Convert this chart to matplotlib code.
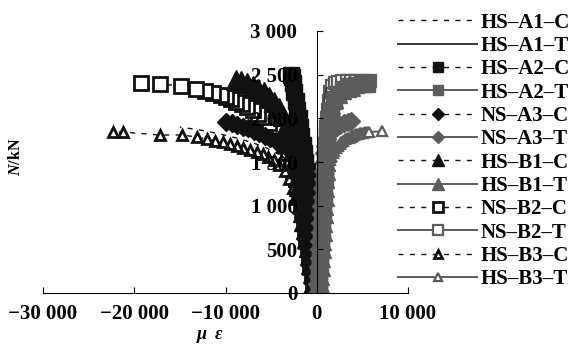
import matplotlib
matplotlib.use("Agg")
import matplotlib.pyplot as plt
from matplotlib.lines import Line2D
from matplotlib.ticker import FuncFormatter

plt.rcParams['font.family'] = ['Liberation Serif', 'DejaVu Serif']
plt.rcParams['font.weight'] = 'bold'
plt.rcParams['mathtext.fontset'] = 'custom'
plt.rcParams['mathtext.it'] = 'Liberation Serif:italic:bold'
plt.rcParams['mathtext.rm'] = 'Liberation Serif:bold'

# strain (με) and axial load (kN)
hs_a1_c_strain = [0, -200, -500, -800, -1200, -1600, -2200, -3000, -4000, -5500, -7000, -9000, -11000, -13000, -15000]
hs_a1_c_load = [0, 100, 400, 700, 1000, 1250, 1400, 1500, 1580, 1660, 1720, 1780, 1830, 1870, 1900]

hs_a1_t_strain = [0, 100, 200, 350, 550, 800, 1100]
hs_a1_t_load = [0, 500, 1000, 1500, 1900, 2200, 2350]

hs_a2_c_strain = [-300, -350, -400, -450, -500, -550, -600, -650, -700, -750, -800, -850, -900,
                  -1000, -1100, -1250, -1400, -1550, -1700, -1850, -2000, -2150, -2300, -2450, -2600, -2750, -2850]
hs_a2_c_load = [0, 100, 200, 300, 400, 500, 600, 700, 800, 900, 1000, 1100, 1200,
                1300, 1400, 1500, 1600, 1700, 1800, 1900, 2000, 2100, 2200, 2300, 2400, 2470, 2500]

hs_a2_t_strain = [200, 250, 300, 350, 400, 450, 500, 550, 600, 650, 700, 750, 800, 850, 900, 950, 1000, 1050, 1100,
                  1200, 1350, 1550, 1850, 2300, 2900, 3600, 4300, 5000, 5500]
hs_a2_t_load = [0, 100, 200, 300, 400, 500, 600, 700, 800, 900, 1000, 1100, 1200, 1300, 1400, 1500, 1600, 1700, 1800,
                1900, 2000, 2100, 2200, 2280, 2340, 2370, 2385, 2390, 2390]

ns_a3_c_strain = [-80, -140, -210, -280, -350, -420, -500, -600, -700, -800, -900, -1000, -1150, -1300, -1500,
                  -1800, -2200, -2700, -3300, -3900, -4500, -5100, -5700, -6300, -6900, -7500, -8100, -8700, -9300, -9900]
ns_a3_c_load = [0, 100, 200, 300, 400, 500, 600, 700, 800, 900, 1000, 1100, 1200, 1300, 1400,
                1490, 1560, 1610, 1660, 1700, 1735, 1770, 1800, 1830, 1860, 1885, 1905, 1925, 1945, 1960]

ns_a3_t_strain = [0, 50, 100, 150, 200, 250, 300, 350, 400, 450, 500, 550, 600, 650, 700, 750, 800,
                  900, 1100, 1400, 1800, 2200, 2600, 3000, 3400, 3700]
ns_a3_t_load = [0, 100, 200, 300, 400, 500, 600, 700, 800, 900, 1000, 1100, 1200, 1300, 1400, 1500, 1600,
                1680, 1760, 1830, 1880, 1905, 1925, 1945, 1960, 1970]

hs_b1_c_strain = [-150, -200, -300, -450, -600, -750, -900, -1050, -1200, -1350, -1500, -1650, -1800, -1950, -2100,
                  -2250, -2400, -2550, -2750, -3000, -3300, -3700, -4150, -4650, -5200, -5800, -6400, -7000, -7600,
                  -8300, -8900]
hs_b1_c_load = [0, 50, 130, 230, 330, 430, 530, 630, 730, 830, 930, 1030, 1130, 1230, 1330,
                1430, 1530, 1630, 1730, 1830, 1930, 2030, 2120, 2190, 2250, 2300, 2340, 2375, 2405,
                2425, 2440]

hs_b1_t_strain = [300, 350, 400, 450, 500, 550, 600, 650, 700, 750, 800, 850, 900, 950, 1000, 1050, 1100, 1150,
                  1200, 1250, 1300, 1400, 1600, 1900, 2300, 2800, 3300, 3800]
hs_b1_t_load = [0, 100, 200, 300, 400, 500, 600, 700, 800, 900, 1000, 1100, 1200, 1300, 1400, 1500, 1600, 1700,
                1800, 1900, 2000, 2080, 2150, 2220, 2280, 2320, 2345, 2360]

ns_b2_c_strain = [-250, -400, -550, -700, -850, -1000, -1150, -1300, -1450, -1600, -1750, -1900, -2100, -2300,
                  -2550, -2850, -3200, -3600, -4100, -4600, -5200, -5800, -6400, -7000, -7600, -8200, -8800,
                  -9400, -9970, -10520, -11360, -12270, -13260, -14830, -17130, -19290]
ns_b2_c_load = [0, 100, 200, 300, 400, 500, 600, 700, 800, 900, 1000, 1100, 1200, 1300,
                1400, 1500, 1600, 1700, 1800, 1880, 1950, 2010, 2055, 2095, 2130, 2160, 2185,
                2225, 2248, 2267, 2293, 2316, 2336, 2370, 2393, 2408]

ns_b2_t_strain = [100, 150, 200, 250, 300, 350, 400, 450, 500, 550, 600, 650, 700, 750, 800, 850, 900, 950, 1000,
                  1050, 1100, 1200, 1300, 1450, 1650, 1950, 2350, 2800, 3300, 3800, 4300, 4800, 5300, 5800]
ns_b2_t_load = [0, 100, 200, 300, 400, 500, 600, 700, 800, 900, 1000, 1100, 1200, 1300, 1400, 1500, 1600, 1700, 1800,
                1900, 2000, 2100, 2200, 2300, 2370, 2400, 2420, 2430, 2430, 2430, 2428, 2428, 2425, 2425]

hs_b3_c_strain = [-150, -300, -450, -600, -750, -950, -1150, -1350, -1550, -1750, -2000, -2300, -2600, -3000,
                  -3500, -4100, -4700, -5300, -5920, -6580, -7340, -8110, -8770, -9540, -10300, -11180, -12050,
                  -13150, -14800, -17200, -21260, -22360]
hs_b3_c_load = [0, 100, 200, 300, 400, 500, 600, 700, 800, 900, 1000, 1100, 1200, 1300,
                1400, 1470, 1520, 1560, 1592, 1614, 1637, 1660, 1683, 1706, 1729, 1740, 1763,
                1786, 1809, 1809, 1843, 1843]

hs_b3_t_strain = [0, 50, 100, 150, 200, 250, 300, 350, 400, 450, 500, 550, 600, 650, 700, 775, 850, 925, 1000, 1100,
                  1200, 1300, 1450, 1600, 1750, 1900, 2100, 2300, 2500, 2700, 2900, 3100, 3300, 3500, 3700, 3900,
                  4100, 4300, 4500, 4700, 4900, 5100, 5300, 5500, 5700, 7200]
hs_b3_t_load = [0, 75, 150, 225, 300, 375, 450, 525, 600, 675, 750, 815, 880, 940, 1000, 1075, 1150, 1220, 1290, 1360,
                1420, 1470, 1520, 1565, 1600, 1630, 1660, 1685, 1710, 1728, 1745, 1758, 1770, 1780, 1790, 1799,
                1808, 1815, 1822, 1828, 1833, 1837, 1840, 1843, 1845, 1850]

x_ticks = [-30000, -20000, -10000, 0, 10000]
y_ticks = [0, 500, 1000, 1500, 2000, 2500, 3000]

BLK = '#111111'
GRY = '#5c5c5c'
DASH = (0, (3.6, 4.6))

fig = plt.figure(figsize=(5.69, 3.53), dpi=100)
ax = fig.add_axes([43 / 569, 60 / 353, 365 / 569, 262 / 353])

# (label, strain, load, compression?, marker, size in plot, size in legend, open?)
series = [
    ('HS\u2013A1\u2013C', hs_a1_c_strain, hs_a1_c_load, True, None, 0, 0, False),
    ('HS\u2013A1\u2013T', hs_a1_t_strain, hs_a1_t_load, False, None, 0, 0, False),
    ('HS\u2013A2\u2013C', hs_a2_c_strain, hs_a2_c_load, True, 's', 11, 7, False),
    ('HS\u2013A2\u2013T', hs_a2_t_strain, hs_a2_t_load, False, 's', 11, 7, False),
    ('NS\u2013A3\u2013C', ns_a3_c_strain, ns_a3_c_load, True, 'D', 9, 6, False),
    ('NS\u2013A3\u2013T', ns_a3_t_strain, ns_a3_t_load, False, 'D', 9, 6, False),
    ('HS\u2013B1\u2013C', hs_b1_c_strain, hs_b1_c_load, True, '^', 14, 8, False),
    ('HS\u2013B1\u2013T', hs_b1_t_strain, hs_b1_t_load, False, '^', 13, 8, False),
    ('NS\u2013B2\u2013C', ns_b2_c_strain, ns_b2_c_load, True, 's', 10, 7, True),
    ('NS\u2013B2\u2013T', ns_b2_t_strain, ns_b2_t_load, False, 's', 9, 7, True),
    ('HS\u2013B3\u2013C', hs_b3_c_strain, hs_b3_c_load, True, '^', 7, 6, True),
    ('HS\u2013B3\u2013T', hs_b3_t_strain, hs_b3_t_load, False, '^', 7, 6, True),
]

handles = []
for label, xs, ys, comp, mk, ms, ms_leg, hollow in series:
    col = BLK if comp else GRY
    if label == 'HS\u2013A1\u2013T':
        col = '#3a3a3a'
    style = dict(color=col, lw=1.0 if comp else 1.4, ls=DASH if comp else '-')
    if mk:
        style.update(marker=mk, mec=col, mfc='white' if hollow else col,
                     mew=(2.0 if comp else 1.6) if hollow else 1.0)
    # hollow markers sit under the filled ones, tension curves over compression
    z = (1.9 if hollow else 2.0) if comp else (2.1 if hollow else 2.2)
    ax.plot(xs, ys, ms=ms, zorder=z, **style)
    handles.append(Line2D([], [], ms=ms_leg, label=label, **style))

ax.set_xlim(-30000, 10000)
ax.set_ylim(0, 3000)
ax.set_axisbelow(False)
ax.spines['top'].set_visible(False)
ax.spines['right'].set_visible(False)
ax.spines['left'].set_position(('data', 0))
for s in ('left', 'bottom'):
    ax.spines[s].set_linewidth(0.8)
    ax.spines[s].set_zorder(3)

def thousands(v, pos):
    s = f"{abs(int(round(v))):,}".replace(',', ' ')
    return ('\u2212' + s) if v < 0 else s

ax.set_xticks(x_ticks)
ax.set_yticks(y_ticks)
ax.xaxis.set_major_formatter(FuncFormatter(thousands))
ax.yaxis.set_major_formatter(FuncFormatter(thousands))
ax.tick_params(axis='both', direction='in', length=4, width=0.8, labelsize=15)
ax.tick_params(axis='x', pad=8)
ax.tick_params(axis='y', pad=14)

ax.set_xlabel('\u03bc  \u03b5', fontsize=13, fontstyle='italic', fontweight='bold')
ax.xaxis.set_label_coords(0.457, -0.125)
ax.set_ylabel('$N$/kN', fontsize=11.5, fontweight='bold')
ax.yaxis.set_label_coords(-0.052, 0.52)

fig.legend(handles=handles, loc='upper left', bbox_to_anchor=(398 / 569, 0.964), frameon=False, fontsize=15,
           handlelength=3.8, handletextpad=0.15, labelspacing=0.16, borderpad=0, borderaxespad=0,
           numpoints=1)

fig.savefig('out.png', dpi=100)
